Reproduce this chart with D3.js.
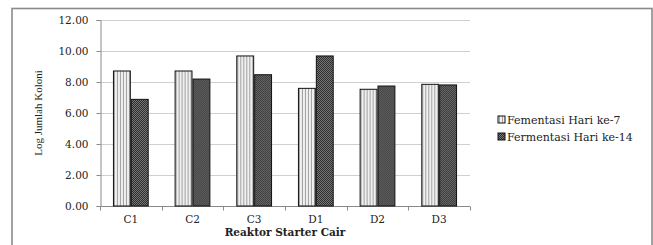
<!DOCTYPE html>
<html>
<head>
<meta charset="utf-8">
<script src="https://cdn.jsdelivr.net/npm/d3@7"></script>
<style>
  body { margin: 0; background: #fff; }
  svg { display: block; }
</style>
</head>
<body>
<div id="chart"></div>
<script>
var categories = ["C1", "C2", "C3", "D1", "D2", "D3"];
var seriesNames = ["Fementasi Hari ke-7", "Fermentasi Hari ke-14"];
var hari7 = [8.71, 8.71, 9.68, 7.59, 7.53, 7.85];
var hari14 = [6.88, 8.19, 8.47, 9.68, 7.74, 7.81];
var yTicks = [0, 2, 4, 6, 8, 10, 12];

var width = 653, height = 245;
var margin = { left: 100, right: 183, top: 20, bottom: 39 };

var svg = d3.select("#chart").append("svg")
    .attr("width", width)
    .attr("height", height);

// hatch patterns like the old excel fills
var defs = svg.append("defs");
var p1 = defs.append("pattern").attr("id", "stripe")
    .attr("patternUnits", "userSpaceOnUse").attr("width", 3).attr("height", 3);
p1.append("rect").attr("width", 3).attr("height", 3).attr("fill", "#f0f0f0");
p1.append("rect").attr("x", 1).attr("width", 1).attr("height", 3).attr("fill", "#a0a0a0");

var p2 = defs.append("pattern").attr("id", "dots")
    .attr("patternUnits", "userSpaceOnUse").attr("width", 2).attr("height", 2);
p2.append("rect").attr("width", 2).attr("height", 2).attr("fill", "#7a7a7a");
p2.append("rect").attr("width", 1).attr("height", 1).attr("fill", "#2a2a2a");
p2.append("rect").attr("x", 1).attr("y", 1).attr("width", 1).attr("height", 1).attr("fill", "#2a2a2a");

// outer frame
svg.append("rect")
    .attr("x", 12).attr("y", 8.5)
    .attr("width", 640).attr("height", 250)
    .attr("fill", "none")
    .attr("stroke", "#8a8a8a")
    .attr("stroke-width", 1.6);

var x = d3.scaleBand()
    .domain(categories)
    .range([margin.left, width - margin.right])
    .paddingInner(0.42)
    .paddingOuter(0.21);

var xSub = d3.scaleBand()
    .domain([0, 1])
    .range([0, x.bandwidth()]);

var y = d3.scaleLinear()
    .domain([0, 12])
    .range([height - margin.bottom, margin.top]);

// gridlines
svg.append("g").selectAll("line")
    .data(yTicks.filter(function(d) { return d > 0; }))
    .enter().append("line")
    .attr("x1", margin.left).attr("x2", width - margin.right)
    .attr("y1", function(d) { return Math.round(y(d)) + 0.5; })
    .attr("y2", function(d) { return Math.round(y(d)) + 0.5; })
    .attr("stroke", "#d0d0d0")
    .attr("stroke-width", 1.2);

// y axis
var yAxis = svg.append("g")
    .attr("transform", "translate(" + (margin.left + 0.5) + ",0)")
    .call(d3.axisLeft(y).tickValues(yTicks).tickSize(4).tickPadding(8)
        .tickFormat(function(d) { return d3.format(".2f")(d); }));
yAxis.select(".domain").attr("stroke", "#8a8a8a");
yAxis.selectAll(".tick line").attr("stroke", "#8a8a8a");
yAxis.selectAll("text")
    .attr("font-family", "DejaVu Serif")
    .attr("font-size", 10.5)
    .attr("fill", "#222");

// x axis with ticks between categories
var xAxisG = svg.append("g")
    .attr("transform", "translate(0," + (Math.round(y(0)) + 0.5) + ")");
xAxisG.append("line")
    .attr("x1", margin.left).attr("x2", width - margin.right)
    .attr("stroke", "#8a8a8a");
var bounds = d3.range(categories.length + 1).map(function(i) { return margin.left + i * (width - margin.left - margin.right) / categories.length; });
xAxisG.selectAll(".tk")
    .data(bounds)
    .enter().append("line")
    .attr("x1", function(d) { return Math.round(d) + 0.5; })
    .attr("x2", function(d) { return Math.round(d) + 0.5; })
    .attr("y1", 0).attr("y2", 4)
    .attr("stroke", "#8a8a8a");
xAxisG.selectAll(".lbl")
    .data(categories)
    .enter().append("text")
    .attr("x", function(d) { return x(d) + x.bandwidth() / 2; })
    .attr("y", 16.5)
    .attr("text-anchor", "middle")
    .attr("font-family", "DejaVu Serif")
    .attr("font-size", 10.5)
    .attr("fill", "#222")
    .text(function(d) { return d; });

// bars
var rows = categories.map(function(c, i) { return { cat: c, vals: [hari7[i], hari14[i]] }; });
var fills = ["url(#stripe)", "url(#dots)"];

var groups = svg.append("g").selectAll("g")
    .data(rows)
    .enter().append("g")
    .attr("transform", function(d) { return "translate(" + x(d.cat) + ",0)"; });

groups.selectAll("rect")
    .data(function(d) { return d.vals; })
    .enter().append("rect")
    .attr("x", function(d, i) { return xSub(i) + 0.5; })
    .attr("y", function(d) { return y(d); })
    .attr("width", xSub.bandwidth() - 1)
    .attr("height", function(d) { return y(0) - y(d); })
    .attr("fill", function(d, i) { return fills[i]; })
    .attr("stroke", "#111")
    .attr("stroke-width", 1);

// axis titles
svg.append("text")
    .attr("x", (margin.left + width - margin.right) / 2)
    .attr("y", 235.5)
    .attr("text-anchor", "middle")
    .attr("font-family", "DejaVu Serif")
    .attr("font-weight", "bold")
    .attr("font-size", 10.5)
    .attr("fill", "#222")
    .text("Reaktor Starter Cair");

svg.append("text")
    .attr("transform", "translate(42,113) rotate(-90)")
    .attr("text-anchor", "middle")
    .attr("font-family", "Liberation Serif")
    .attr("font-size", 11)
    .attr("fill", "#222")
    .text("Log Jumlah Koloni");

// legend
var legend = svg.append("g").selectAll("g")
    .data(seriesNames)
    .enter().append("g")
    .attr("transform", function(d, i) { return "translate(498," + (116 + i * 17) + ")"; });
legend.append("rect")
    .attr("width", 7).attr("height", 7)
    .attr("fill", function(d, i) { return fills[i]; })
    .attr("stroke", "#111");
legend.append("text")
    .attr("x", 9).attr("y", 7.5)
    .attr("font-family", "DejaVu Serif")
    .attr("font-size", 11)
    .attr("fill", "#222")
    .text(function(d) { return d; });
</script>
</body>
</html>
